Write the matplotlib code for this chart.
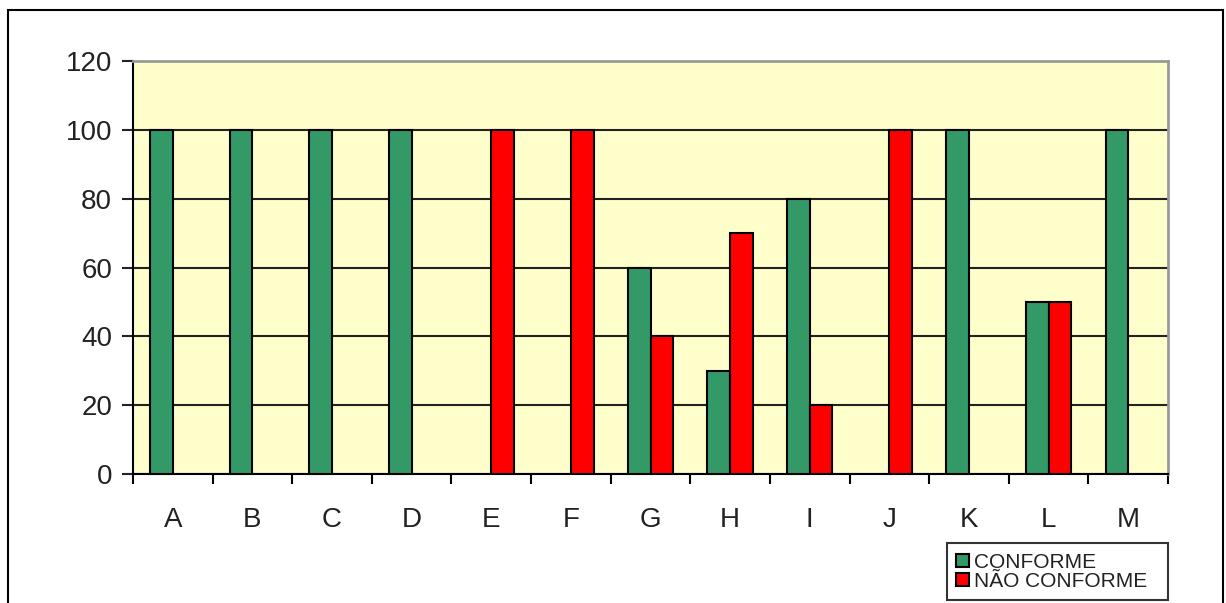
import numpy as np
import matplotlib
matplotlib.use("Agg")
import matplotlib.pyplot as plt
from matplotlib.patches import Rectangle

# data
categories = ["A", "B", "C", "D", "E", "F", "G", "H", "I", "J", "K", "L", "M"]
conforme = [100, 100, 100, 100, 0, 0, 60, 30, 80, 0, 100, 50, 100]
nao_conforme = [0, 0, 0, 0, 100, 100, 40, 70, 20, 100, 0, 50, 0]
yticks = [0, 20, 40, 60, 80, 100, 120]

plt.rcParams['font.family'] = ['Liberation Sans', 'DejaVu Sans']

fig = plt.figure(figsize=(12.26, 6.03), dpi=100)
ax = fig.add_axes([133/1226, 1-474/603, (1168-133)/1226, (474-61)/603])
ax.set_facecolor('#FFFFCC')

x = np.arange(len(categories))
w = 0.285
green = np.array(conforme, dtype=float)
red = np.array(nao_conforme, dtype=float)
gm = green > 0
rm = red > 0
ax.bar(x[gm] - w/2, green[gm], w, color='#339966', edgecolor='black', linewidth=1.5,
       label='CONFORME', zorder=3)
ax.bar(x[rm] + w/2, red[rm], w, color='#FF0000', edgecolor='black', linewidth=1.5,
       label='NÃO CONFORME', zorder=3)

ax.set_xlim(-0.5, len(categories) - 0.5)
ax.set_ylim(0, 120)
ax.set_yticks(yticks)
ax.yaxis.grid(True, color='#222222', linewidth=1.5, zorder=1)
ax.set_axisbelow(True)

ax.set_xticks(x)
ax.set_xticklabels(categories)
ax.set_xticks(np.arange(len(categories) + 1) - 0.5, minor=True)
ax.tick_params(axis='x', which='major', length=0, pad=24, labelsize=20, colors='#222222')
ax.tick_params(axis='x', which='minor', length=7, width=1.5, direction='out', color='black')
ax.tick_params(axis='y', length=8, width=1.5, direction='out', pad=7, labelsize=20,
               colors='#222222')

for s in ['top', 'right']:
    ax.spines[s].set_color('#999999')
    ax.spines[s].set_linewidth(2)
for s in ['left', 'bottom']:
    ax.spines[s].set_color('black')
    ax.spines[s].set_linewidth(1.5)

leg = ax.legend(loc='lower left', bbox_to_anchor=(947/1226, 1-600/603, (1168-947)/1226, (600-545)/603),
                bbox_transform=fig.transFigure, mode='expand', fontsize=15, frameon=True,
                fancybox=False, edgecolor='black', handlelength=0.6, handleheight=0.6,
                handletextpad=0.25, labelspacing=0.0, borderpad=0.45, borderaxespad=0)
leg.get_frame().set_linewidth(1.5)
for t in leg.get_texts():
    t.set_color('#222222')

# outer chart border
fig.patches.append(Rectangle((8/1226, -0.05), (1223-8)/1226, 1.05 - 10/603,
                             transform=fig.transFigure, fill=False, edgecolor='black',
                             linewidth=1.5))

fig.savefig('out.png', dpi=100)
